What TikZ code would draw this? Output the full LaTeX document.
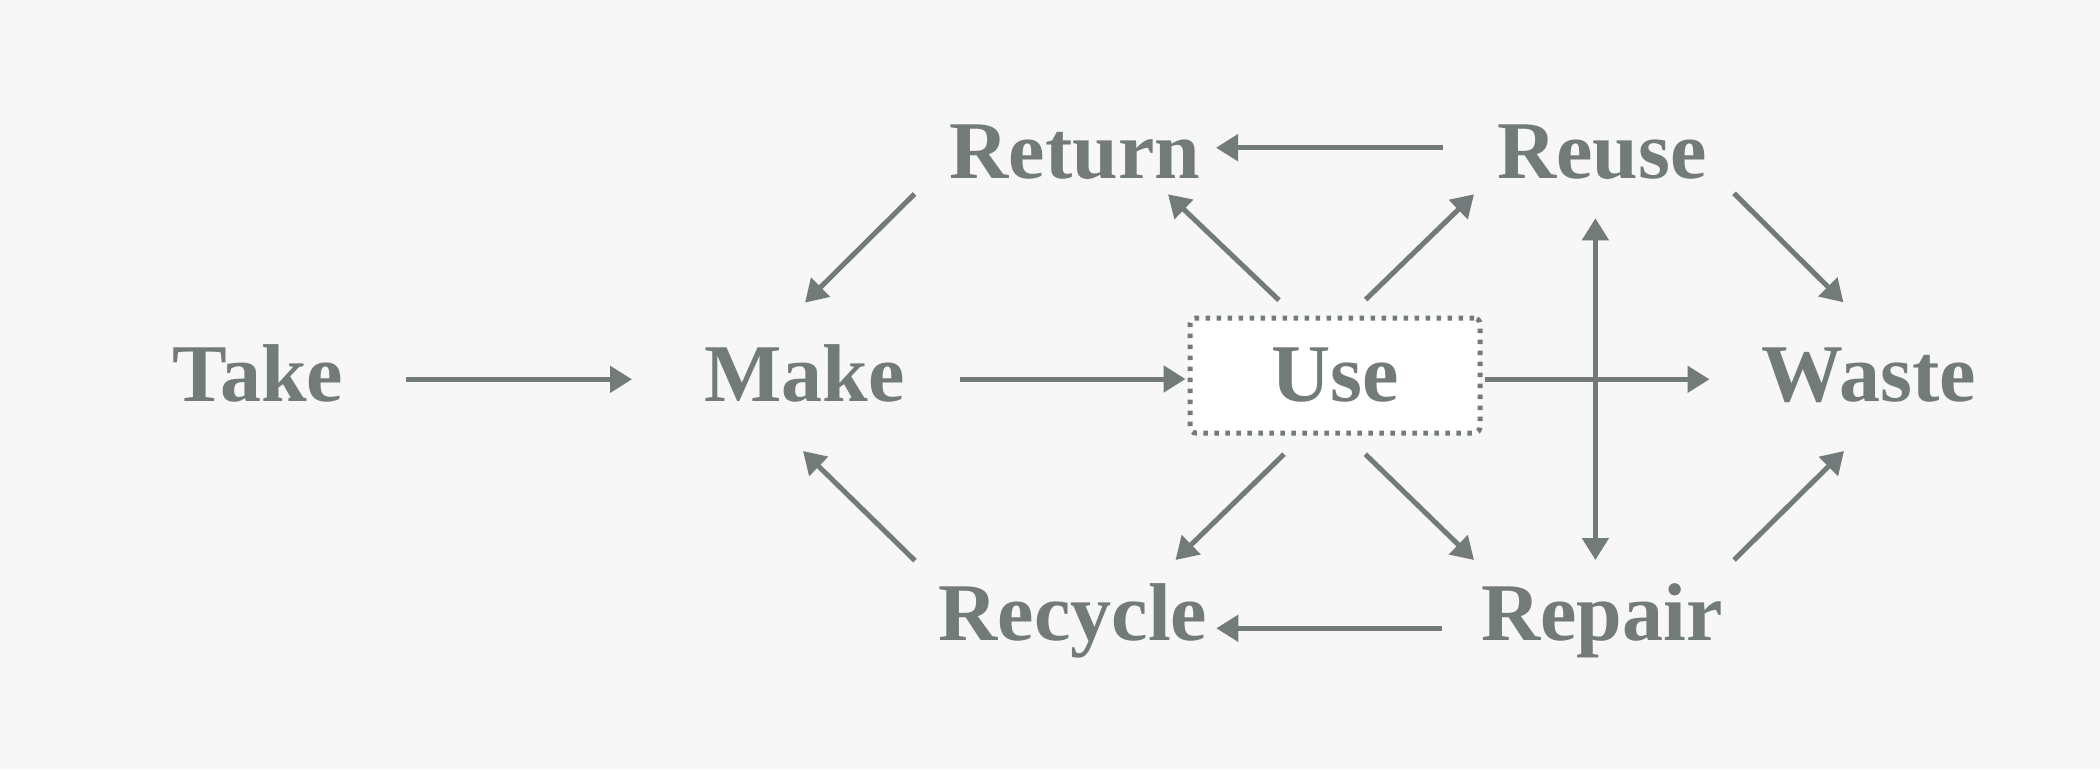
\documentclass[tikz,border=0pt]{standalone}
\usepackage{fontspec}
\setmainfont{Liberation Serif}
\usetikzlibrary{arrows.meta,calc}
\definecolor{bg}{RGB}{247,247,248}
\definecolor{ink}{RGB}{114,123,122}
\tikzset{
  lbl/.style={inner sep=0pt, anchor=base, text=ink, font=\fontsize{82}{90}\selectfont\bfseries},
  arr/.style={draw=ink, line width=5pt, -{Triangle[length=22pt,width=26pt]}},
  darr/.style={draw=ink, line width=5pt, {Triangle[length=22pt,width=26pt]}-{Triangle[length=22pt,width=26pt]}},
  usebox/.style={draw=ink, fill=white, line width=5pt, dash pattern=on 4.5pt off 6.5pt,
    rounded corners=6pt, minimum width=290pt, minimum height=115pt, inner sep=0pt,
    text=ink, font=\fontsize{82}{90}\selectfont\bfseries}
}
\begin{document}
\begin{tikzpicture}[x={(1pt,0)}, y={(0,-1pt)}]
\fill[bg] (0,0) rectangle (2100,769);
\useasboundingbox (0,0) rectangle (2100,769);

\node[lbl] (take) at (258,401) {Take};
\node[lbl] (make) at (804.5,401) {Make};
\node[usebox] (use) at (1335,375.5) {Use};
\node[lbl] (waste) at (1869,401) {Waste};
\node[lbl] (return) at (1075,178.3) {Return};
\node[lbl] (reuse) at (1602,178.3) {Reuse};
\node[lbl] (recycle) at (1073,640) {Recycle};
\node[lbl] (repair) at (1602,640) {Repair};

% horizontal
\draw[arr] ($(take.base)+(148,-21.7)$) -- ($(make.base)+(-172.5,-21.7)$);
\draw[arr] ($(make.base)+(155.5,-22)$) -- ($(use.west)+(-2,3.5)$);
\draw[arr] ($(use.east)+(2,3.8)$) -- ($(waste.base)+(-159.5,-21.7)$);
\draw[arr] ($(reuse.base)+(-159.3,-30.6)$) -- ($(return.base)+(141,-30.6)$);
\draw[arr] ($(repair.base)+(-160.2,-11.7)$) -- ($(recycle.base)+(143.3,-11.7)$);
% diagonals to make
\draw[arr] ($(return.base)+(-160.5,15.7)$) -- ($(make.base)+(0.5,-98.4)$);
\draw[arr] ($(recycle.base)+(-158,-79.3)$) -- ($(make.base)+(-1.5,50)$);
% from use
\draw[arr] ($(use.north)+(-56,-15.3)$) -- ($(return.base)+(93,16)$);
\draw[arr] ($(use.north)+(30.7,-16)$) -- ($(reuse.base)+(-128,16)$);
\draw[arr] ($(use.south)+(-51,18.7)$) -- ($(recycle.base)+(102.5,-80)$);
\draw[arr] ($(use.south)+(30.3,18.7)$) -- ($(repair.base)+(-128,-80)$);
% to waste
\draw[arr] ($(reuse.base)+(132,15)$) -- ($(waste.base)+(-25.6,-98.7)$);
\draw[arr] ($(repair.base)+(132,-80)$) -- ($(waste.base)+(-25,50)$);
% vertical
\draw[darr] ($(reuse.base)+(-6.6,40)$) -- ($(repair.base)+(-6.6,-80)$);
\end{tikzpicture}
\end{document}
